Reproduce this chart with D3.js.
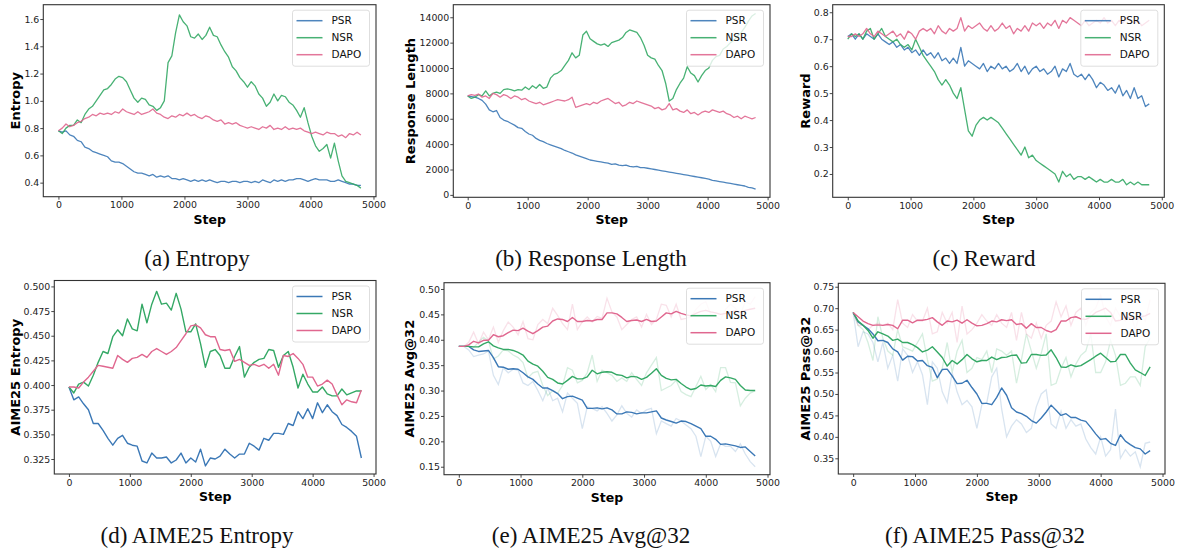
<!DOCTYPE html>
<html>
<head>
<meta charset="utf-8">
<script src="https://cdn.jsdelivr.net/npm/d3@7"></script>
<style>
body { margin: 0; background: #fff; }
svg { display: block; }
</style>
</head>
<body>
<svg id="chart" width="1180" height="551"></svg>
<script>
// ---- top row: training curves, one value every 60 steps (0..4800) ----
var psrEntropy = [0.78,0.77,0.78,0.75,0.74,0.71,0.70,0.66,0.65,0.63,
  0.62,0.61,0.60,0.59,0.56,0.55,0.55,0.54,0.52,0.50,
  0.48,0.47,0.47,0.46,0.45,0.46,0.44,0.45,0.44,0.45,
  0.43,0.43,0.42,0.43,0.42,0.41,0.42,0.41,0.42,0.41,
  0.42,0.41,0.40,0.41,0.41,0.40,0.41,0.41,0.40,0.41,
  0.41,0.40,0.41,0.40,0.42,0.41,0.40,0.42,0.41,0.42,
  0.41,0.42,0.42,0.43,0.43,0.42,0.41,0.42,0.43,0.42,
  0.42,0.42,0.41,0.41,0.42,0.41,0.40,0.39,0.39,0.38,0.38]
var nsrEntropy = [0.78,0.76,0.80,0.82,0.82,0.86,0.84,0.90,0.94,0.96,
  1.00,1.04,1.08,1.09,1.12,1.16,1.18,1.17,1.14,1.08,
  1.02,0.99,1.02,1.01,0.97,0.96,0.93,0.95,1.00,1.28,
  1.33,1.50,1.63,1.58,1.55,1.47,1.46,1.49,1.45,1.48,
  1.54,1.48,1.47,1.41,1.36,1.32,1.25,1.22,1.17,1.14,
  1.10,1.14,1.11,1.05,1.02,0.96,0.99,1.05,1.00,1.04,
  1.03,0.99,0.97,0.93,0.88,0.95,0.84,0.74,0.67,0.63,
  0.65,0.68,0.58,0.69,0.56,0.45,0.41,0.40,0.39,0.38,0.36]
var dapoEntropy = [0.78,0.80,0.83,0.81,0.82,0.84,0.85,0.87,0.88,0.90,
  0.89,0.91,0.90,0.91,0.90,0.92,0.91,0.94,0.92,0.91,
  0.90,0.92,0.90,0.91,0.92,0.94,0.91,0.90,0.88,0.87,
  0.89,0.88,0.90,0.89,0.91,0.89,0.90,0.88,0.87,0.89,
  0.88,0.86,0.85,0.86,0.83,0.84,0.83,0.84,0.82,0.81,
  0.80,0.81,0.80,0.79,0.81,0.80,0.82,0.79,0.80,0.79,
  0.81,0.79,0.80,0.79,0.80,0.78,0.77,0.76,0.77,0.76,
  0.75,0.77,0.76,0.76,0.74,0.75,0.73,0.76,0.75,0.77,0.75]

var psrLength = [7800,7750,7700,7600,7450,7150,6700,6550,6650,6100,
  5900,5800,5650,5500,5300,5250,5000,4800,4700,4450,
  4300,4200,4050,3950,3850,3750,3650,3500,3400,3300,
  3150,3050,2950,2850,2750,2700,2650,2600,2550,2500,
  2400,2450,2350,2300,2350,2250,2200,2250,2150,2150,
  2100,2050,2000,1950,1900,1850,1800,1750,1700,1650,
  1600,1550,1500,1450,1400,1350,1300,1250,1150,1100,
  1050,1000,950,900,850,800,750,700,600,550,450]
var nsrLength = [7800,7600,7700,7900,7800,8200,7800,8000,8100,8000,
  8300,8350,8300,8200,8300,8250,8500,8300,8600,8400,
  8700,8400,8500,9200,9500,9600,9800,10200,10600,11200,
  10800,11000,12600,12900,12300,12100,11900,11800,11900,11700,
  12000,12100,12200,12400,12800,13000,12900,12800,12400,11800,
  11000,10800,10700,10200,9800,8800,7400,7600,8300,8800,
  9200,10100,9600,9400,8900,9400,9800,10000,10600,10900,
  11000,11500,11700,12000,12200,12500,12800,13200,13700,14100,14300]
var dapoLength = [7800,7900,7850,7950,7700,7800,7600,8000,7900,7700,
  7900,7800,7600,7800,7700,7500,7600,7400,7300,7200,
  7300,7100,7200,7300,7400,7500,7450,7400,7500,7700,
  6900,7000,7100,7200,7100,7300,7200,7400,7500,7600,
  7400,7200,7300,7000,7100,7300,7200,7400,7300,7200,
  7100,7000,6800,6900,6700,6800,7200,6700,6800,6600,
  6500,6700,6400,6500,6300,6500,6600,6500,6700,6600,
  6500,6600,6400,6300,6100,6200,6000,6200,6100,6000,6100]

var psrReward = [0.71,0.72,0.70,0.72,0.70,0.72,0.71,0.70,0.72,0.70,
  0.69,0.68,0.69,0.67,0.68,0.66,0.67,0.65,0.66,0.64,
  0.66,0.64,0.65,0.63,0.65,0.62,0.63,0.61,0.63,0.61,
  0.67,0.60,0.62,0.61,0.60,0.59,0.61,0.58,0.60,0.59,
  0.61,0.59,0.60,0.58,0.59,0.61,0.58,0.60,0.57,0.59,
  0.60,0.58,0.59,0.57,0.58,0.60,0.56,0.59,0.58,0.61,
  0.57,0.56,0.57,0.55,0.57,0.55,0.52,0.54,0.53,0.51,
  0.52,0.50,0.53,0.49,0.51,0.48,0.52,0.48,0.49,0.45,0.46]
var nsrReward = [0.70,0.72,0.71,0.72,0.70,0.73,0.74,0.70,0.72,0.74,
  0.71,0.70,0.69,0.70,0.68,0.67,0.68,0.66,0.70,0.67,
  0.64,0.62,0.60,0.58,0.55,0.53,0.55,0.53,0.50,0.48,
  0.52,0.44,0.36,0.34,0.38,0.40,0.41,0.40,0.41,0.40,
  0.39,0.37,0.35,0.33,0.31,0.29,0.27,0.30,0.26,0.27,
  0.25,0.24,0.23,0.22,0.21,0.20,0.17,0.21,0.19,0.20,
  0.18,0.19,0.19,0.18,0.19,0.18,0.17,0.18,0.17,0.17,
  0.18,0.17,0.17,0.18,0.16,0.17,0.16,0.17,0.16,0.16,0.16]
var dapoReward = [0.71,0.71,0.72,0.71,0.72,0.74,0.72,0.71,0.73,0.72,
  0.71,0.72,0.73,0.71,0.72,0.70,0.73,0.72,0.70,0.73,
  0.74,0.73,0.74,0.72,0.75,0.73,0.72,0.74,0.73,0.74,
  0.78,0.73,0.75,0.74,0.75,0.76,0.74,0.73,0.75,0.73,
  0.74,0.76,0.74,0.75,0.72,0.74,0.73,0.75,0.73,0.76,
  0.75,0.76,0.74,0.76,0.75,0.77,0.74,0.77,0.76,0.78,
  0.77,0.76,0.75,0.77,0.75,0.76,0.77,0.76,0.78,0.76,
  0.77,0.75,0.77,0.76,0.78,0.77,0.76,0.77,0.75,0.76,0.77]

// ---- bottom row: AIME25 evals, one value every 80 steps (0..4800) ----
var psrAimeEnt = [0.398,0.385,0.388,0.381,0.375,0.361,0.361,0.354,0.346,0.339,
  0.346,0.349,0.341,0.339,0.338,0.323,0.321,0.331,0.326,0.326,
  0.327,0.321,0.324,0.331,0.321,0.326,0.322,0.335,0.318,0.326,
  0.325,0.328,0.335,0.330,0.326,0.330,0.330,0.341,0.338,0.334,
  0.346,0.344,0.351,0.351,0.350,0.361,0.359,0.373,0.366,0.376,
  0.366,0.382,0.372,0.380,0.373,0.369,0.360,0.357,0.353,0.348,0.326]
var nsrAimeEnt = [0.398,0.392,0.401,0.403,0.399,0.410,0.423,0.434,0.432,0.449,
  0.456,0.450,0.467,0.457,0.455,0.482,0.463,0.482,0.495,0.482,
  0.483,0.476,0.493,0.477,0.454,0.454,0.462,0.442,0.418,0.434,
  0.436,0.430,0.417,0.417,0.429,0.439,0.408,0.418,0.423,0.426,
  0.427,0.436,0.435,0.418,0.430,0.434,0.418,0.397,0.411,0.401,
  0.393,0.393,0.398,0.391,0.389,0.389,0.396,0.390,0.392,0.394,0.394]
var dapoAimeEnt = [0.398,0.398,0.397,0.403,0.408,0.414,0.420,0.419,0.418,0.417,
  0.430,0.426,0.423,0.427,0.428,0.431,0.428,0.434,0.437,0.434,
  0.431,0.434,0.438,0.445,0.452,0.460,0.461,0.458,0.451,0.449,
  0.449,0.436,0.435,0.436,0.424,0.426,0.423,0.420,0.421,0.419,
  0.421,0.417,0.421,0.410,0.430,0.429,0.432,0.427,0.421,0.408,
  0.408,0.399,0.401,0.405,0.401,0.390,0.380,0.385,0.383,0.382,0.395]

var psrAvgRaw = [0.387,0.387,0.380,0.367,0.370,0.372,0.378,0.330,0.312,0.345,
  0.335,0.342,0.340,0.315,0.310,0.318,0.300,0.280,0.305,0.280,
  0.285,0.258,0.295,0.285,0.275,0.225,0.268,0.265,0.260,0.268,
  0.255,0.240,0.252,0.270,0.255,0.248,0.262,0.255,0.262,0.265,
  0.215,0.240,0.235,0.230,0.245,0.240,0.232,0.225,0.210,0.170,
  0.210,0.200,0.170,0.195,0.190,0.190,0.180,0.195,0.175,0.160,0.150]
var psrAvg = [0.387,0.387,0.387,0.380,0.377,0.378,0.379,0.365,0.347,0.346,
  0.342,0.343,0.342,0.335,0.327,0.322,0.313,0.305,0.305,0.300,
  0.294,0.284,0.288,0.289,0.285,0.281,0.265,0.265,0.266,0.264,
  0.266,0.262,0.254,0.254,0.258,0.257,0.254,0.256,0.256,0.258,
  0.260,0.246,0.242,0.239,0.236,0.240,0.239,0.235,0.230,0.225,
  0.210,0.210,0.204,0.194,0.195,0.193,0.191,0.188,0.189,0.180,0.171]
var nsrAvgRaw = [0.387,0.387,0.387,0.385,0.395,0.405,0.398,0.362,0.368,0.380,
  0.378,0.370,0.365,0.355,0.325,0.335,0.338,0.310,0.290,0.300,
  0.295,0.310,0.345,0.340,0.315,0.320,0.335,0.370,0.318,0.340,
  0.335,0.330,0.318,0.325,0.318,0.335,0.322,0.310,0.335,0.350,
  0.365,0.300,0.305,0.310,0.320,0.298,0.292,0.288,0.308,0.328,
  0.302,0.312,0.298,0.345,0.345,0.316,0.315,0.270,0.285,0.295,0.300]
var nsrAvg = [0.387,0.387,0.387,0.386,0.386,0.392,0.396,0.388,0.384,0.381,
  0.381,0.379,0.375,0.370,0.358,0.352,0.348,0.338,0.326,0.322,
  0.315,0.313,0.320,0.328,0.323,0.323,0.327,0.340,0.333,0.336,
  0.337,0.336,0.331,0.330,0.325,0.328,0.327,0.322,0.326,0.334,
  0.343,0.330,0.324,0.321,0.322,0.314,0.307,0.302,0.304,0.311,
  0.309,0.310,0.308,0.320,0.327,0.325,0.322,0.310,0.301,0.300,0.300]
var dapoAvgRaw = [0.387,0.387,0.395,0.415,0.392,0.415,0.400,0.425,0.395,0.418,
  0.435,0.425,0.410,0.436,0.402,0.400,0.430,0.440,0.432,0.462,
  0.448,0.432,0.420,0.470,0.420,0.435,0.445,0.435,0.446,0.442,
  0.482,0.455,0.445,0.420,0.430,0.440,0.445,0.425,0.450,0.430,
  0.440,0.470,0.468,0.445,0.470,0.440,0.442,0.445,0.460,0.470,
  0.475,0.450,0.445,0.440,0.460,0.470,0.462,0.450,0.475,0.470,0.485]
var dapoAvg = [0.387,0.387,0.390,0.397,0.394,0.399,0.399,0.410,0.406,0.408,
  0.414,0.419,0.418,0.423,0.417,0.412,0.418,0.425,0.427,0.437,
  0.441,0.440,0.436,0.444,0.436,0.436,0.438,0.437,0.440,0.440,
  0.453,0.453,0.451,0.444,0.436,0.438,0.439,0.436,0.440,0.436,
  0.437,0.445,0.453,0.451,0.456,0.452,0.449,0.447,0.452,0.456,
  0.458,0.455,0.453,0.450,0.452,0.455,0.457,0.454,0.458,0.460,0.462]

var psrPassRaw = [0.690,0.610,0.645,0.640,0.620,0.575,0.620,0.560,0.590,0.530,
  0.605,0.590,0.550,0.575,0.545,0.475,0.575,0.560,0.505,0.480,
  0.550,0.505,0.475,0.485,0.470,0.420,0.475,0.480,0.540,0.560,
  0.465,0.400,0.425,0.440,0.430,0.410,0.420,0.470,0.500,0.510,
  0.430,0.420,0.460,0.420,0.440,0.425,0.430,0.395,0.375,0.360,
  0.400,0.355,0.370,0.465,0.350,0.370,0.355,0.365,0.330,0.385,0.388]
var psrPass = [0.690,0.668,0.660,0.652,0.640,0.624,0.625,0.620,0.605,0.598,
  0.579,0.588,0.587,0.577,0.578,0.566,0.562,0.538,0.557,0.558,
  0.542,0.524,0.525,0.532,0.515,0.500,0.478,0.478,0.475,0.492,
  0.514,0.497,0.468,0.458,0.454,0.448,0.438,0.432,0.444,0.458,
  0.474,0.462,0.450,0.454,0.445,0.445,0.439,0.436,0.422,0.407,
  0.394,0.396,0.385,0.380,0.405,0.390,0.382,0.375,0.372,0.360,0.368]
var nsrPassRaw = [0.690,0.660,0.650,0.620,0.578,0.680,0.630,0.600,0.590,0.650,
  0.610,0.605,0.600,0.620,0.640,0.580,0.530,0.535,0.560,0.620,
  0.550,0.600,0.625,0.550,0.560,0.585,0.580,0.600,0.550,0.605,
  0.600,0.590,0.600,0.525,0.580,0.640,0.600,0.560,0.595,0.640,
  0.520,0.525,0.560,0.585,0.540,0.570,0.590,0.600,0.640,0.550,
  0.550,0.575,0.625,0.590,0.520,0.525,0.540,0.540,0.520,0.610,0.630]
var nsrPass = [0.690,0.670,0.660,0.648,0.630,0.645,0.640,0.635,0.625,0.628,
  0.620,0.620,0.615,0.608,0.598,0.602,0.610,0.598,0.585,0.565,
  0.578,0.570,0.580,0.592,0.582,0.575,0.578,0.578,0.586,0.580,
  0.585,0.586,0.590,0.591,0.572,0.573,0.592,0.592,0.590,0.591,
  0.603,0.585,0.563,0.562,0.568,0.564,0.566,0.573,0.580,0.588,
  0.595,0.585,0.575,0.576,0.592,0.592,0.572,0.556,0.550,0.543,0.563]
var dapoPassRaw = [0.690,0.660,0.660,0.650,0.660,0.665,0.660,0.665,0.650,0.720,
  0.665,0.655,0.685,0.670,0.670,0.700,0.640,0.645,0.690,0.665,
  0.690,0.620,0.705,0.640,0.650,0.665,0.685,0.670,0.660,0.685,
  0.665,0.655,0.690,0.625,0.690,0.640,0.630,0.665,0.630,0.660,
  0.670,0.715,0.680,0.705,0.660,0.690,0.700,0.660,0.690,0.700,
  0.730,0.680,0.660,0.700,0.680,0.670,0.690,0.650,0.690,0.670,0.720]
var dapoPass = [0.690,0.680,0.670,0.664,0.660,0.661,0.660,0.662,0.660,0.652,
  0.672,0.672,0.666,0.672,0.672,0.674,0.678,0.668,0.660,0.670,
  0.668,0.672,0.665,0.673,0.665,0.659,0.660,0.664,0.670,0.668,
  0.673,0.671,0.673,0.662,0.664,0.653,0.664,0.655,0.655,0.648,
  0.644,0.650,0.670,0.670,0.678,0.680,0.675,0.674,0.680,0.690,
  0.695,0.700,0.690,0.670,0.672,0.680,0.678,0.675,0.680,0.682,0.688]

var methods = ['PSR', 'NSR', 'DAPO']
var xTicks = [0, 1000, 2000, 3000, 4000, 5000]
var lastStep = 4800

var colors = { PSR: '#3b78b6', NSR: '#34a865', DAPO: '#e0678f' }

var svg = d3.select('#chart')

function drawPanel(p) {
    var x = d3.scaleLinear().domain([-240, 5040]).range([p.left, p.right])
    var y = d3.scaleLinear().domain(p.yDomain).range([p.bottom, p.top])

    var g = svg.append('g')

    g.append('clipPath')
        .attr('id', 'clip' + p.id)
        .append('rect')
        .attr('x', p.left).attr('y', p.top)
        .attr('width', p.right - p.left).attr('height', p.bottom - p.top)

    function lineFor(values) {
        var n = values.length
        return d3.line()
            .x(function(d, i) { return x(i * lastStep / (n - 1)) })
            .y(function(d) { return y(d) })(values)
    }

    var plot = g.append('g').attr('clip-path', 'url(#clip' + p.id + ')')

    // faded raw curves first
    p.series.forEach(function(s, k) {
        if (!s.raw) return
        plot.append('path')
            .attr('d', lineFor(s.raw))
            .attr('fill', 'none')
            .attr('stroke', colors[methods[k]])
            .attr('stroke-width', 1.3)
            .attr('stroke-opacity', 0.2)
    })
    p.series.forEach(function(s, k) {
        plot.append('path')
            .attr('d', lineFor(s.values))
            .attr('fill', 'none')
            .attr('stroke', colors[methods[k]])
            .attr('stroke-width', p.lw)
            .attr('stroke-opacity', p.alpha)
            .attr('stroke-linejoin', 'round')
    })

    // axes
    var xAxis = g.append('g')
        .attr('transform', 'translate(0,' + p.bottom + ')')
        .call(d3.axisBottom(x).tickValues(xTicks).tickSize(3).tickPadding(2).tickFormat(d3.format('d')))
    var yAxis = g.append('g')
        .attr('transform', 'translate(' + p.left + ',0)')
        .call(d3.axisLeft(y).tickValues(p.yTicks).tickSize(3).tickPadding(1).tickFormat(d3.format(p.yFormat)))

    ;[xAxis, yAxis].forEach(function(a) {
        a.select('.domain').remove()
        a.selectAll('.tick line').attr('stroke', '#333').attr('stroke-width', 0.9)
        a.selectAll('.tick text')
            .attr('fill', '#222')
            .style('font-family', 'DejaVu Sans')
            .style('font-size', '9.4px')
    })

    // frame
    g.append('rect')
        .attr('x', p.left).attr('y', p.top)
        .attr('width', p.right - p.left).attr('height', p.bottom - p.top)
        .attr('fill', 'none')
        .attr('stroke', '#333')
        .attr('stroke-width', 1.1)

    // axis labels
    g.append('text')
        .attr('x', (p.left + p.right) / 2)
        .attr('y', p.bottom + 27)
        .attr('text-anchor', 'middle')
        .style('font-family', 'DejaVu Sans')
        .style('font-weight', 'bold')
        .style('font-size', '12.5px')
        .text('Step')

    // y label: baseline sits on the right, glyphs extend to the left
    g.append('text')
        .attr('transform', 'translate(' + (p.yLabelX + 4.6) + ',' + (p.top + p.bottom) / 2 + ') rotate(-90)')
        .attr('text-anchor', 'middle')
        .style('font-family', 'DejaVu Sans')
        .style('font-weight', 'bold')
        .style('font-size', '13px')
        .text(p.yLabel)

    // legend
    var lg = g.append('g')
        .attr('transform', 'translate(' + (p.right - 83.5) + ',' + (p.top + 5.5) + ')')
    lg.append('rect')
        .attr('width', 77).attr('height', 56).attr('rx', 2.5)
        .attr('fill', '#fff').attr('fill-opacity', 0.8)
        .attr('stroke', '#d6d6d6').attr('stroke-width', 0.8)
    methods.forEach(function(m, k) {
        var ry = 10.5 + k * 17
        lg.append('line')
            .attr('x1', 4).attr('x2', 30).attr('y1', ry).attr('y2', ry)
            .attr('stroke', colors[m]).attr('stroke-width', 1.5)
            .attr('stroke-opacity', p.alpha)
        lg.append('text')
            .attr('x', 39).attr('y', ry).attr('dy', '0.36em')
            .style('font-family', 'DejaVu Sans')
            .style('font-size', '10.5px')
            .attr('fill', '#111')
            .text(m)
    })

    // caption
    svg.append('text')
        .attr('x', p.capX)
        .attr('y', p.capY)
        .attr('text-anchor', 'middle')
        .style('font-family', 'Liberation Serif')
        .style('font-size', '23px')
        .attr('fill', '#111')
        .text(p.caption)
}

var panels = [
    { id: 'a', left: 43.3, right: 376, top: 4.7, bottom: 196.7, yDomain: [0.297, 1.705],
      yTicks: [0.4, 0.6, 0.8, 1.0, 1.2, 1.4, 1.6], yFormat: '.1f', yLabel: 'Entropy', yLabelX: 15,
      caption: '(a) Entropy', capX: 197, capY: 266, lw: 1.3, alpha: 0.9,
      series: [{ values: psrEntropy }, { values: nsrEntropy }, { values: dapoEntropy }] },
    { id: 'b', left: 453.3, right: 770, top: 4.7, bottom: 197.3, yDomain: [-190, 14990],
      yTicks: [0, 2000, 4000, 6000, 8000, 10000, 12000, 14000], yFormat: 'd', yLabel: 'Response Length', yLabelX: 410,
      caption: '(b) Response Length', capX: 591, capY: 266, lw: 1.3, alpha: 0.9,
      series: [{ values: psrLength }, { values: nsrLength }, { values: dapoLength }] },
    { id: 'c', left: 832.7, right: 1164.3, top: 4.7, bottom: 197.3, yDomain: [0.1135, 0.828],
      yTicks: [0.2, 0.3, 0.4, 0.5, 0.6, 0.7, 0.8], yFormat: '.1f', yLabel: 'Reward', yLabelX: 805,
      caption: '(c) Reward', capX: 984, capY: 266, lw: 1.3, alpha: 0.9,
      series: [{ values: psrReward }, { values: nsrReward }, { values: dapoReward }] },
    { id: 'd', left: 54.3, right: 376, top: 280.5, bottom: 474, yDomain: [0.3098, 0.506],
      yTicks: [0.325, 0.35, 0.375, 0.4, 0.425, 0.45, 0.475, 0.5], yFormat: '.3f', yLabel: 'AIME25 Entropy', yLabelX: 15,
      caption: '(d) AIME25 Entropy', capX: 197, capY: 543, lw: 1.4, alpha: 1,
      series: [{ values: psrAimeEnt }, { values: nsrAimeEnt }, { values: dapoAimeEnt }] },
    { id: 'e', left: 444, right: 770, top: 282.7, bottom: 474.7, yDomain: [0.1343, 0.5124],
      yTicks: [0.15, 0.2, 0.25, 0.3, 0.35, 0.4, 0.45, 0.5], yFormat: '.2f', yLabel: 'AIME25 Avg@32', yLabelX: 409.5,
      caption: '(e) AIME25 Avg@32', capX: 591, capY: 543, lw: 1.4, alpha: 1,
      series: [{ values: psrAvg, raw: psrAvgRaw }, { values: nsrAvg, raw: nsrAvgRaw }, { values: dapoAvg, raw: dapoAvgRaw }] },
    { id: 'f', left: 838.3, right: 1165, top: 283.3, bottom: 474, yDomain: [0.3134, 0.758],
      yTicks: [0.35, 0.4, 0.45, 0.5, 0.55, 0.6, 0.65, 0.7, 0.75], yFormat: '.2f', yLabel: 'AIME25 Pass@32', yLabelX: 805,
      caption: '(f) AIME25 Pass@32', capX: 985, capY: 543, lw: 1.4, alpha: 1,
      series: [{ values: psrPass, raw: psrPassRaw }, { values: nsrPass, raw: nsrPassRaw }, { values: dapoPass, raw: dapoPassRaw }] }
]

panels.forEach(drawPanel)
</script>
</body>
</html>
